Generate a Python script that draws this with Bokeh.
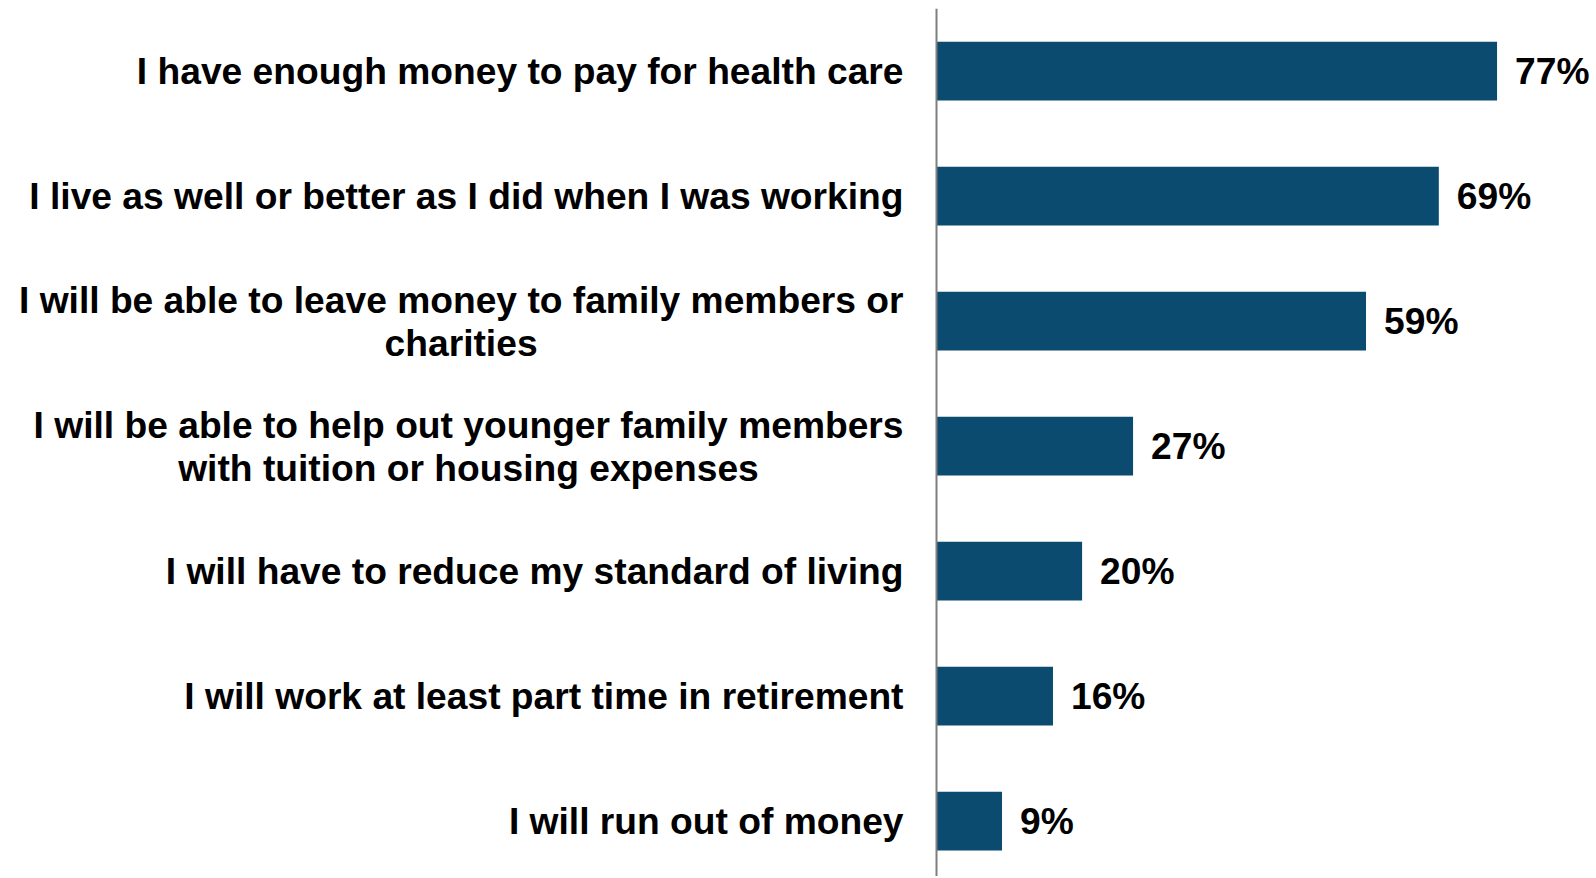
from bokeh.plotting import figure
from bokeh.models import ColumnDataSource, Range1d, Span
from bokeh.core.properties import value
from bokeh.embed import file_html
from bokeh.resources import INLINE

# ---- data ----
categories = [
    "I have enough money to pay for health care",
    "I live as well or better as I did when I was working",
    "I will be able to leave money to family members or\ncharities",
    "I will be able to help out younger family members\nwith tuition or housing expenses",
    "I will have to reduce my standard of living",
    "I will work at least part time in retirement",
    "I will run out of money",
]
values = [77, 69, 59, 27, 20, 16, 9]
value_labels = ["77%", "69%", "59%", "27%", "20%", "16%", "9%"]

# ---- style ----
FONT = "Liberation Sans"
FS = 37.2
BAR_COLOR = "#0A4B6F"
LABEL_GAP = 33      # px between label block and axis line
VALUE_GAP = 18      # px between bar end and value text

# Arial/Liberation Sans Bold advance widths (per 1000 em) for centering lines
_W = {" ": 278, "a": 556, "b": 611, "c": 556, "d": 611, "e": 556, "f": 333, "g": 611,
      "h": 611, "i": 278, "j": 278, "k": 556, "l": 278, "m": 889, "n": 611, "o": 611,
      "p": 611, "q": 611, "r": 389, "s": 556, "t": 333, "u": 611, "v": 556, "w": 778,
      "x": 556, "y": 556, "z": 500, "I": 278}


def text_width(s):
    return sum(_W.get(ch, 556) for ch in s) * FS / 1000.0


idx = list(range(len(categories)))
PITCH = 125.0
W, H = 1590, 876
TOP = 8
PX_PER_PCT = 7.28
AXIS_PX = 936

p = figure(width=W, height=H, output_backend="svg", toolbar_location=None,
           x_axis_type=None, y_axis_type=None, min_border=0, min_border_top=TOP,
           x_range=Range1d(-AXIS_PX / PX_PER_PCT, (W - AXIS_PX) / PX_PER_PCT),
           y_range=Range1d(-0.5 + (H - TOP) / PITCH, -0.5))
p.grid.visible = False
p.outline_line_color = None
p.background_fill_color = "white"
p.border_fill_color = "white"

src = ColumnDataSource(dict(y=idx, v=values, lab=value_labels))
p.hbar(y="y", right="v", left=0, height=0.47, source=src,
       fill_color=BAR_COLOR, line_color=None)

p.text(x="v", y="y", text="lab", source=src, x_offset=VALUE_GAP,
       text_align="left", text_baseline="middle",
       text_font=value(FONT), text_font_style="bold",
       text_font_size=f"{FS}px", text_color="black")

# category labels (multi-line ones centred within their block)
lx, ly, lt, loff = [], [], [], []
half = 21.5 / PITCH
for i, cat in enumerate(categories):
    lines = cat.split("\n")
    if len(lines) == 1:
        lx.append(0); ly.append(i); lt.append(lines[0]); loff.append(-LABEL_GAP)
    else:
        block = max(text_width(s) for s in lines)
        n = len(lines)
        for k, s in enumerate(lines):
            yy = i + (k - (n - 1) / 2) * 2 * half
            off = -LABEL_GAP - (block - text_width(s)) / 2
            lx.append(0); ly.append(yy); lt.append(s); loff.append(off)

lsrc = ColumnDataSource(dict(x=lx, y=ly, t=lt, off=loff))
p.text(x="x", y="y", text="t", x_offset="off", source=lsrc,
       text_align="right", text_baseline="middle",
       text_font=value(FONT), text_font_style="bold",
       text_font_size=f"{FS}px", text_color="black")

p.add_layout(Span(location=0, dimension="height", line_color="#7F7F7F", line_width=2))

open("out.html", "w").write(file_html(p, INLINE))
